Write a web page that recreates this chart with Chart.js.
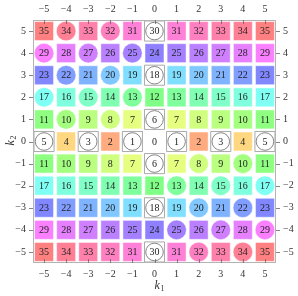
<!DOCTYPE html>
<html>
<head>
<meta charset="utf-8">
<script src="https://cdn.jsdelivr.net/npm/chart.js@4/dist/chart.umd.min.js"></script>
<style>
  html, body { margin: 0; padding: 0; background: #fff; }
  #wrap { width: 298px; height: 296px; }
</style>
</head>
<body>
<div id="wrap"><canvas id="myChart" width="298" height="296"></canvas></div>
<script>
// k1 across, k2 down (top row is k2 = 5)
const k1Values = [-5, -4, -3, -2, -1, 0, 1, 2, 3, 4, 5];
const k2Values = [5, 4, 3, 2, 1, 0, -1, -2, -3, -4, -5];
const tickValues = [-5, -4, -3, -2, -1, 0, 1, 2, 3, 4, 5];

// number written in each cell
const cellNumbers = [
    [35, 34, 33, 32, 31, 30, 31, 32, 33, 34, 35],
    [29, 28, 27, 26, 25, 24, 25, 26, 27, 28, 29],
    [23, 22, 21, 20, 19, 18, 19, 20, 21, 22, 23],
    [17, 16, 15, 14, 13, 12, 13, 14, 15, 16, 17],
    [11, 10, 9, 8, 7, 6, 7, 8, 9, 10, 11],
    [5, 4, 3, 2, 1, 0, 1, 2, 3, 4, 5],
    [11, 10, 9, 8, 7, 6, 7, 8, 9, 10, 11],
    [17, 16, 15, 14, 13, 12, 13, 14, 15, 16, 17],
    [23, 22, 21, 20, 19, 18, 19, 20, 21, 22, 23],
    [29, 28, 27, 26, 25, 24, 25, 26, 27, 28, 29],
    [35, 34, 33, 32, 31, 30, 31, 32, 33, 34, 35]
];

// s = square, c = circle, w = white circle in a box, n = nothing
const cellShapes = [
    'scscswsssss',
    'cscscssssss',
    'scscswsssss',
    'cscscssssss',
    'scscswsssss',
    'wswswnwswsw',
    'ssssswscscs',
    'sssssscscsc',
    'ssssswscscs',
    'sssssscscsc',
    'ssssswscscs'
];

function cellColor(n) {
    return 'hsl(' + (n / 35 * 360) + ', 100%, 75%)';
}

const squares = [], circles = [], boxes = [], whiteCircles = [], textPoints = [];
k2Values.forEach((k2, r) => {
    k1Values.forEach((k1, c) => {
        const n = cellNumbers[r][c];
        const shape = cellShapes[r][c];
        const p = {x: k1, y: k2, n: n};
        textPoints.push(p);
        if (shape === 's') squares.push(p);
        else if (shape === 'c') circles.push(p);
        else if (shape === 'w') { boxes.push(p); whiteCircles.push(p); }
    });
});

const serif = '"Liberation Serif", "Times New Roman", Times, serif';

const overlay = {
    id: 'overlay',
    afterDatasetsDraw(chart) {
        const ctx = chart.ctx;
        const xs = chart.scales.x, ys = chart.scales.y;
        const a = chart.chartArea;
        ctx.save();
        // numbers
        ctx.fillStyle = '#222';
        ctx.font = '10px ' + serif;
        ctx.textAlign = 'center';
        ctx.textBaseline = 'middle';
        textPoints.forEach(p => {
            ctx.fillText(String(p.n), xs.getPixelForValue(p.x), ys.getPixelForValue(p.y) + 0.5);
        });
        // frame
        ctx.strokeStyle = '#b4b4b4';
        ctx.lineWidth = 1;
        ctx.strokeRect(Math.round(a.left) + 0.5, Math.round(a.top) + 0.5,
            Math.round(a.right - a.left) - 1, Math.round(a.bottom - a.top) - 1);
        // ticks
        ctx.strokeStyle = '#666';
        ctx.lineWidth = 0.8;
        ctx.beginPath();
        tickValues.forEach(v => {
            const px = Math.round(xs.getPixelForValue(v)) + 0.5;
            ctx.moveTo(px, a.top); ctx.lineTo(px, a.top + 4);
            ctx.moveTo(px, a.bottom); ctx.lineTo(px, a.bottom - 4);
            const py = Math.round(ys.getPixelForValue(v)) + 0.5;
            ctx.moveTo(a.left, py); ctx.lineTo(a.left - 4, py);
            ctx.moveTo(a.right, py); ctx.lineTo(a.right + 4, py);
        });
        ctx.stroke();
        // axis titles
        ctx.fillStyle = '#333';
        ctx.font = 'italic 12px ' + serif;
        ctx.textAlign = 'left';
        ctx.textBaseline = 'alphabetic';
        const bx = (a.left + a.right) / 2;
        ctx.fillText('k', bx, 289);
        ctx.font = '8px ' + serif;
        ctx.fillText('1', bx + 6, 291);
        ctx.translate(14, (a.top + a.bottom) / 2 + 4);
        ctx.rotate(-Math.PI / 2);
        ctx.font = 'italic 12px ' + serif;
        ctx.fillText('k', 0, 0);
        ctx.font = '8px ' + serif;
        ctx.fillText('2', 6, 2);
        ctx.restore();
    }
};

function axisOptions(position, size) {
    const horizontal = position === 'top' || position === 'bottom';
    return {
        type: 'linear', position: position, min: -5.5, max: 5.5,
        grid: {display: false, drawTicks: false}, border: {display: false},
        ticks: {
            font: {family: serif, size: 10},
            color: '#333',
            padding: horizontal ? 5 : 7,
            autoSkip: false,
            maxRotation: 0,
            callback: v => String(v).replace('-', '\u2212')
        },
        afterBuildTicks: s => { s.ticks = tickValues.map(v => ({value: v})); },
        afterFit: s => { if (horizontal) s.height = size; else s.width = size; }
    };
}

const ctx = document.getElementById('myChart').getContext('2d');
new Chart(ctx, {
    type: 'scatter',
    data: {
        datasets: [
            {
                data: squares,
                order: 3,
                pointStyle: 'rect',
                pointRadius: 13.4,
                backgroundColor: squares.map(p => cellColor(p.n)),
                borderColor: 'rgba(255,255,255,0.6)',
                borderWidth: 0.8
            },
            {
                data: circles,
                order: 3,
                pointStyle: 'circle',
                pointRadius: 9.8,
                backgroundColor: circles.map(p => cellColor(p.n)),
                borderColor: 'rgba(255,255,255,0.6)',
                borderWidth: 0.8
            },
            {
                data: boxes,
                order: 2,
                pointStyle: 'rect',
                pointRadius: 14.2,
                backgroundColor: '#fff',
                borderColor: '#aaa',
                borderWidth: 1
            },
            {
                data: whiteCircles,
                order: 1,
                pointStyle: 'circle',
                pointRadius: 8.8,
                backgroundColor: '#fff',
                borderColor: '#666',
                borderWidth: 0.8
            }
        ]
    },
    options: {
        responsive: false,
        animation: false,
        events: [],
        layout: {padding: 0},
        plugins: {legend: {display: false}, tooltip: {enabled: false}},
        scales: {
            x: axisOptions('bottom', 33),
            x2: axisOptions('top', 20),
            y: axisOptions('left', 33),
            y2: axisOptions('right', 22)
        }
    },
    plugins: [overlay]
});
</script>
</body>
</html>
